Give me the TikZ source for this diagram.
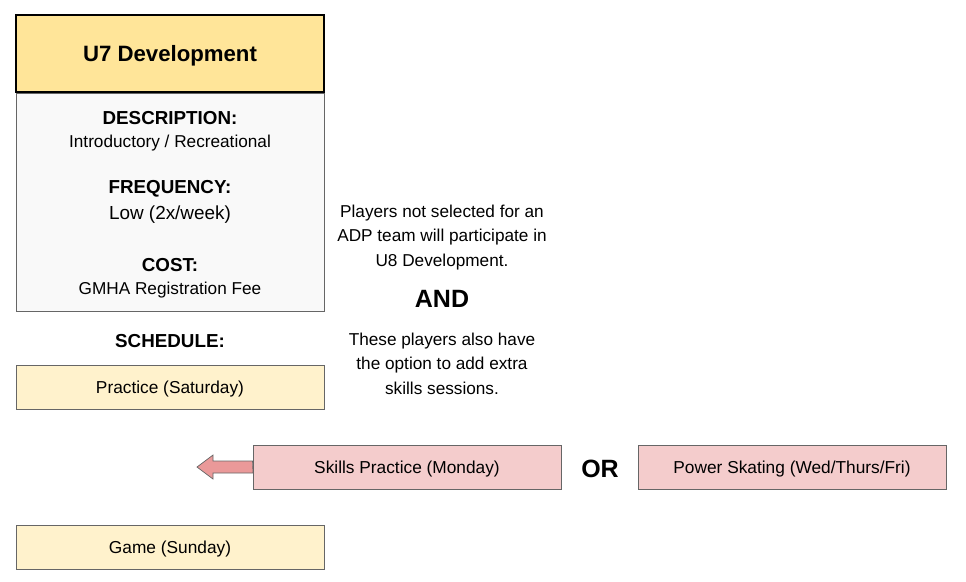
\documentclass[tikz,border=0pt]{standalone}
\usepackage{fontspec}
\setmainfont{Liberation Sans}
\definecolor{hdr}{HTML}{FFE599}
\definecolor{bodyc}{HTML}{F9F9F9}
\definecolor{yel}{HTML}{FFF2CC}
\definecolor{pink}{HTML}{F4CCCC}
\definecolor{arr}{HTML}{EA9999}
\definecolor{edge}{HTML}{666666}
\tikzset{
  box/.style={draw=edge, line width=0.9pt, minimum width=308pt, minimum height=44pt, inner sep=0pt, text depth=0pt, font=\fontsize{17.3}{19}\selectfont},
  yelbox/.style={box, fill=yel},
  pinkbox/.style={box, fill=pink},
  lbl/.style={inner sep=0pt, align=center, yshift=-2pt},
  bold/.style={lbl, font=\fontsize{18.8}{21}\selectfont\bfseries},
  plain/.style={lbl, font=\fontsize{17.2}{19}\selectfont},
  big/.style={lbl, yshift=2pt, font=\fontsize{25}{28}\selectfont\bfseries},
}
\begin{document}
\begin{tikzpicture}[x=1pt,y=-1pt]
\useasboundingbox (0,0) rectangle (966,581);
% header and body
\node[draw=black, line width=1.4pt, fill=hdr, minimum width=308pt, minimum height=77pt, inner sep=0pt, text depth=0pt, font=\fontsize{22.2}{25}\selectfont\bfseries] (hdr) at (170,53.5) {U7 Development};
\node[draw=edge, line width=0.9pt, fill=bodyc, minimum width=308pt, minimum height=218pt, inner sep=0pt, anchor=north] (body) at (hdr.south) {};
\node[bold] (d1) at (170,116) {DESCRIPTION:};
\node[plain] (d2) at (170,141) {Introductory / Recreational};
\node[bold] (f1) at (170,187) {FREQUENCY:};
\node[lbl, font=\fontsize{18.9}{21}\selectfont] (f2) at (170,213) {Low (2x/week)};
\node[bold] (c1) at (170,263) {COST:};
\node[plain] (c2) at (170,288) {GMHA Registration Fee};
\node[bold] (sch) at (170,339) {SCHEDULE:};
% schedule boxes
\node[yelbox] (prac) at (170,387) {Practice (Saturday)};
\node[yelbox] (game) at (170,547.5) {Game (Sunday)};
\node[pinkbox] (skills) at (407,467) {Skills Practice (Monday)};
\node[pinkbox] (power) at (792,467) {Power Skating (Wed/Thurs/Fri)};
\node[big] (or) at (600,468.5) {OR};
% arrow
\coordinate (tip) at (197,467);
\draw[draw=edge, line width=0.7pt, fill=arr] (skills.west) ++(0,-6) -- (213,461) -- (213,455) -- (tip) -- (213,479) -- (213,473) -- (253,473) -- cycle;
% right text
\node[plain, font=\fontsize{17.2}{24.5}\selectfont] (t1) at (442,235.5) {Players not selected for an\\ADP team will participate in\\U8 Development.};
\node[big] (and) at (442,298.5) {AND};
\node[plain, font=\fontsize{17.2}{24.5}\selectfont] (t2) at (442,361.5) {These players also have\\the option to add extra\\skills sessions.};
\end{tikzpicture}
\end{document}
